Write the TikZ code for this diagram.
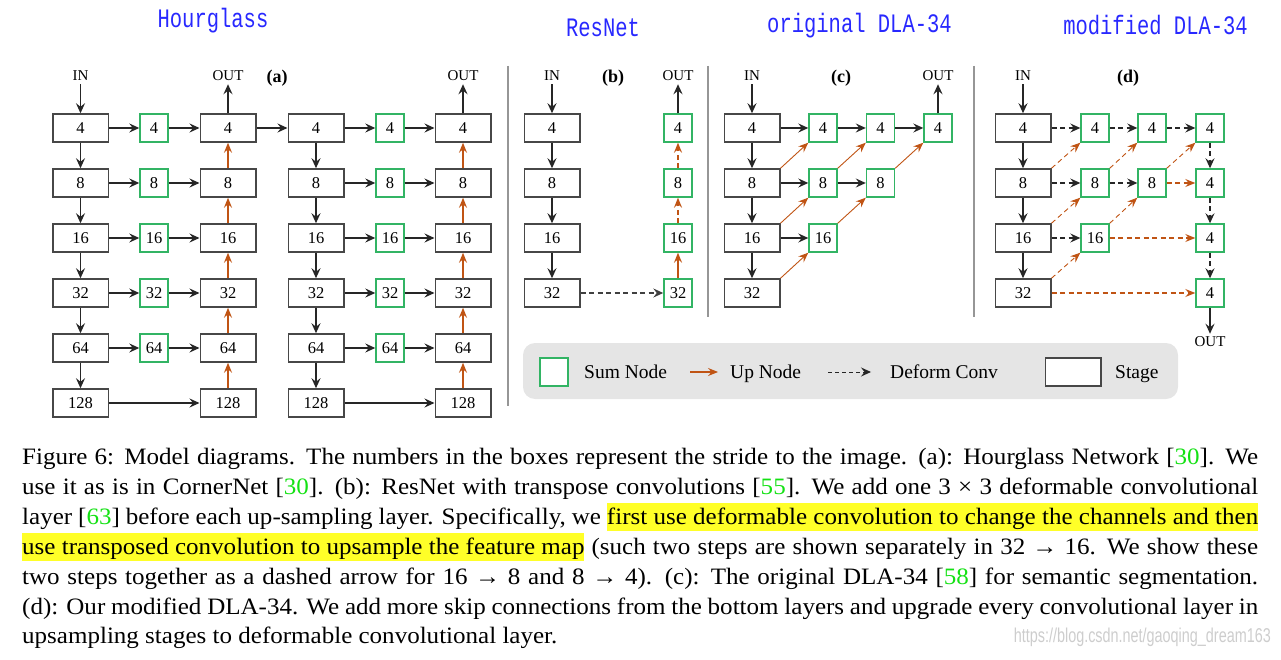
\documentclass[tikz,border=0pt]{standalone}
\usepackage{graphicx}
\usepackage{fontspec}
\setmainfont{Liberation Serif}
\newfontfamily\capfam[FakeStretch=1.065]{Liberation Serif}
\newfontfamily\monof{Liberation Mono}
\newfontfamily\wmfont{Liberation Sans}
\usetikzlibrary{arrows.meta}
\definecolor{sumg}{RGB}{50,180,100}
\definecolor{upo}{RGB}{192,84,20}
\definecolor{ttl}{RGB}{40,40,255}
\definecolor{citeg}{RGB}{20,225,20}
\definecolor{hl}{RGB}{255,255,40}
\definecolor{legbg}{RGB}{229,229,229}
\definecolor{sepc}{RGB}{150,150,150}
\definecolor{wmc}{RGB}{205,205,205}
\newcommand{\cg}[1]{[\textcolor{citeg}{#1}]}
\newcommand{\hlt}[1]{{\setlength{\fboxsep}{0pt}\colorbox{hl}{\rule[-7pt]{0pt}{28pt}#1}}}
\newcommand{\capf}{\capfam\fontsize{23.5}{30}\selectfont}
\newcommand{\ttlt}[1]{\scalebox{1}[1.3]{\monof\fontsize{20.5}{22}\selectfont #1}}
\begin{document}
\begin{tikzpicture}[x=1pt,y=-1pt,
 stagebox/.style={draw=black!72, line width=1.5pt, fill=white, minimum width=55.5pt, minimum height=28pt, inner sep=0pt, font=\fontsize{16.5}{18}\selectfont},
 sumbox/.style={draw=sumg, line width=1.4pt, fill=white, minimum width=28pt, minimum height=28pt, inner sep=0pt, font=\fontsize{16.5}{18}\selectfont},
 lbl/.style={font=\fontsize{15}{16}\selectfont, inner sep=3pt},
 plab/.style={font=\bfseries\fontsize{18}{20}\selectfont, inner sep=0pt},
 legf/.style={font=\fontsize{19.5}{22}\selectfont, inner sep=0pt, anchor=base west},
 arr/.style={draw=black!85, line width=1.4pt, -{Stealth[length=10pt,width=9pt,inset=3.5pt]}},
 uparr/.style={draw=upo, line width=1.3pt, -{Stealth[length=10pt,width=8pt,inset=3.5pt]}},
 diag/.style={draw=upo, line width=0.9pt, -{Stealth[length=10pt,width=8pt,inset=3.5pt]}},
 dsh/.style={dash pattern=on 5pt off 3.5pt},
 sep/.style={draw=sepc, line width=1.2pt},
 ttlnode/.style={text=ttl, inner sep=0pt}
]
\useasboundingbox (0,0) rectangle (1281,660);
% titles
\node[ttlnode] (tA) at (213,21) {\ttlt{Hourglass}};
\node[ttlnode] (tB) at (603,28) {\ttlt{ResNet}};
\node[ttlnode] (tC) at (859.5,26) {\ttlt{original DLA-34}};
\node[ttlnode] (tD) at (1155.5,25) {\ttlt{modified DLA-34}};
% separators
\draw[sep] (508,66) -- (508,406);
\draw[sep] (708,66) -- (708,317);
\draw[sep] (974,66) -- (974,317);
% ---------- panel (a)
\foreach \lab/\yy [count=\i] in {4/128,8/183,16/238,32/293,64/348,128/403} {
  \node[stagebox] (a1-\i) at (80.5,\yy) {\lab};
  \node[stagebox] (a3-\i) at (228,\yy) {\lab};
  \node[stagebox] (a4-\i) at (316,\yy) {\lab};
  \node[stagebox] (a6-\i) at (463,\yy) {\lab};
}
\foreach \lab/\yy [count=\i] in {4/128,8/183,16/238,32/293,64/348} {
  \node[sumbox] (a2-\i) at (154,\yy) {\lab};
  \node[sumbox] (a5-\i) at (390,\yy) {\lab};
}
\foreach \i [evaluate=\i as \j using int(\i+1)] in {1,...,5} {
  \draw[arr] (a1-\i) -- (a1-\j);
  \draw[arr] (a4-\i) -- (a4-\j);
  \draw[uparr] (a3-\j) -- (a3-\i);
  \draw[uparr] (a6-\j) -- (a6-\i);
  \draw[arr] (a1-\i) -- (a2-\i);
  \draw[arr] (a2-\i) -- (a3-\i);
  \draw[arr] (a4-\i) -- (a5-\i);
  \draw[arr] (a5-\i) -- (a6-\i);
}
\draw[arr] (a1-6) -- (a3-6);
\draw[arr] (a4-6) -- (a6-6);
\draw[arr] (a3-1) -- (a4-1);
\node[lbl] (ain) at (80.5,76) {IN};
\node[lbl] (aout1) at (228,76) {OUT};
\node[lbl] (aout2) at (463,76) {OUT};
\node[plab] (alab) at (277,78) {(a)};
\draw[arr] (ain) -- (a1-1);
\draw[arr] (a3-1) -- (aout1);
\draw[arr] (a6-1) -- (aout2);
% ---------- panel (b)
\foreach \lab/\yy [count=\i] in {4/128,8/183,16/238,32/293} {
  \node[stagebox] (b1-\i) at (552,\yy) {\lab};
  \node[sumbox] (b2-\i) at (678,\yy) {\lab};
}
\foreach \i [evaluate=\i as \j using int(\i+1)] in {1,...,3} {
  \draw[arr] (b1-\i) -- (b1-\j);
}
\draw[arr,dsh,draw=black!75] (b1-4) -- (b2-4);
\draw[uparr] (b2-4) -- (b2-3);
\draw[uparr,dsh] (b2-3) -- (b2-2);
\draw[uparr,dsh] (b2-2) -- (b2-1);
\node[lbl] (bin) at (552,76) {IN};
\node[lbl] (bout) at (678,76) {OUT};
\node[plab] (blab) at (613,78) {(b)};
\draw[arr] (bin) -- (b1-1);
\draw[arr] (b2-1) -- (bout);
% ---------- panel (c)
\foreach \lab/\yy [count=\i] in {4/128,8/183,16/238,32/293} {
  \node[stagebox] (c1-\i) at (752,\yy) {\lab};
}
\foreach \lab/\yy [count=\i] in {4/128,8/183,16/238} {
  \node[sumbox] (cg1-\i) at (823,\yy) {\lab};
}
\foreach \lab/\yy [count=\i] in {4/128,8/183} {
  \node[sumbox] (cg2-\i) at (880.5,\yy) {\lab};
}
\node[sumbox] (cg3-1) at (938,128) {4};
\foreach \i [evaluate=\i as \j using int(\i+1)] in {1,...,3} {
  \draw[arr] (c1-\i) -- (c1-\j);
}
\draw[arr] (c1-1) -- (cg1-1);
\draw[arr] (cg1-1) -- (cg2-1);
\draw[arr] (cg2-1) -- (cg3-1);
\draw[arr] (c1-2) -- (cg1-2);
\draw[arr] (cg1-2) -- (cg2-2);
\draw[arr] (c1-3) -- (cg1-3);
\draw[diag] (c1-2.north east) -- (cg1-1.south west);
\draw[diag] (c1-3.north east) -- (cg1-2.south west);
\draw[diag] (c1-4.north east) -- (cg1-3.south west);
\draw[diag] (cg1-2.north east) -- (cg2-1.south west);
\draw[diag] (cg1-3.north east) -- (cg2-2.south west);
\draw[diag] (cg2-2.north east) -- (cg3-1.south west);
\node[lbl] (cin) at (752,76) {IN};
\node[lbl] (cout) at (938,76) {OUT};
\node[plab] (clab) at (841,78) {(c)};
\draw[arr] (cin) -- (c1-1);
\draw[arr] (cg3-1) -- (cout);
% ---------- panel (d)
\foreach \lab/\yy [count=\i] in {4/128,8/183,16/238,32/293} {
  \node[stagebox] (d1-\i) at (1023,\yy) {\lab};
  \node[sumbox] (dg3-\i) at (1210,\yy) {4};
}
\foreach \lab/\yy [count=\i] in {4/128,8/183,16/238} {
  \node[sumbox] (dg1-\i) at (1095,\yy) {\lab};
}
\foreach \lab/\yy [count=\i] in {4/128,8/183} {
  \node[sumbox] (dg2-\i) at (1152,\yy) {\lab};
}
\foreach \i [evaluate=\i as \j using int(\i+1)] in {1,...,3} {
  \draw[arr] (d1-\i) -- (d1-\j);
  \draw[arr,dsh,line width=1.2pt] (dg3-\i) -- (dg3-\j);
}
\draw[arr,dsh,line width=1.2pt] (d1-1) -- (dg1-1);
\draw[arr,dsh,line width=1.2pt] (dg1-1) -- (dg2-1);
\draw[arr,dsh,line width=1.2pt] (dg2-1) -- (dg3-1);
\draw[arr,dsh,line width=1.2pt] (d1-2) -- (dg1-2);
\draw[arr,dsh,line width=1.2pt] (dg1-2) -- (dg2-2);
\draw[arr,dsh,line width=1.2pt] (d1-3) -- (dg1-3);
\draw[diag,dsh,line width=1.1pt] (dg2-2) -- (dg3-2);
\draw[diag,dsh,line width=1.1pt] (dg1-3) -- (dg3-3);
\draw[diag,dsh,line width=1.1pt] (d1-4) -- (dg3-4);
\draw[diag,dsh] (d1-2.north east) -- (dg1-1.south west);
\draw[diag,dsh] (d1-3.north east) -- (dg1-2.south west);
\draw[diag,dsh] (d1-4.north east) -- (dg1-3.south west);
\draw[diag,dsh] (dg1-2.north east) -- (dg2-1.south west);
\draw[diag,dsh] (dg1-3.north east) -- (dg2-2.south west);
\draw[diag,dsh] (dg2-2.north east) -- (dg3-1.south west);
\node[lbl] (din) at (1023,76) {IN};
\node[lbl] (dout) at (1210,342) {OUT};
\node[plab] (dlab) at (1128,78) {(d)};
\draw[arr] (din) -- (d1-1);
\draw[arr] (dg3-4) -- (dout);
% ---------- legend
\node[fill=legbg, rounded corners=12pt, minimum width=655pt, minimum height=56pt, inner sep=0pt] (legend) at (850.5,371) {};
\node[sumbox] (lsum) at (554,372) {};
\node[legf] (lsumt) at (584,378.5) {Sum Node};
\coordinate (lup1) at (690,372);
\coordinate (lup2) at (718,372);
\draw[uparr, line width=1.1pt] (lup1) -- (lup2);
\node[legf] (lupt) at (730,378.5) {Up Node};
\coordinate (ldc1) at (828,372);
\coordinate (ldc2) at (871,372);
\draw[arr,line width=1pt,dash pattern=on 4pt off 3pt] (ldc1) -- (ldc2);
\node[legf] (ldct) at (890,378.5) {Deform Conv};
\node[stagebox] (lst) at (1073,372) {};
\node[legf] (lstt) at (1115,378.5) {Stage};
% ---------- caption
\node[anchor=base west, inner sep=0pt] (cap1) at (22,464) {\capf\makebox[1236pt][s]{Figure 6: Model diagrams. The numbers in the boxes represent the stride to the image. (a): Hourglass Network \cg{30}. We}};
\node[anchor=base west, inner sep=0pt] (cap2) at (22,494) {\capf\makebox[1236pt][s]{use it as is in CornerNet \cg{30}. (b): ResNet with transpose convolutions \cg{55}. We add one 3 × 3 deformable convolutional}};
\node[anchor=base west, inner sep=0pt] (cap3) at (22,524) {\capf\makebox[1236pt][s]{layer \cg{63} before each up-sampling layer. Specifically, we \hlt{first use deformable convolution to change the channels and then}}};
\node[anchor=base west, inner sep=0pt] (cap4) at (22,554) {\capf\makebox[1236pt][s]{\hlt{use transposed convolution to upsample the feature map} (such two steps are shown separately in 32 → 16. We show these}};
\node[anchor=base west, inner sep=0pt] (cap5) at (22,584) {\capf\makebox[1236pt][s]{two steps together as a dashed arrow for 16 → 8 and 8 → 4). (c): The original DLA-34 \cg{58} for semantic segmentation.}};
\node[anchor=base west, inner sep=0pt] (cap6) at (22,614) {\capf\makebox[1236pt][s]{(d): Our modified DLA-34. We add more skip connections from the bottom layers and upgrade every convolutional layer in}};
\node[anchor=base west, inner sep=0pt] (cap7) at (22,643.5) {\capf upsampling stages to deformable convolutional layer.};
% watermark
\node[anchor=east, text=wmc, inner sep=0pt] (wm) at (1271,637) {\scalebox{0.9}[1.25]{\wmfont\fontsize{16}{18}\selectfont https://blog.csdn.net/gaoqing\_dream163}};
\end{tikzpicture}
\end{document}
